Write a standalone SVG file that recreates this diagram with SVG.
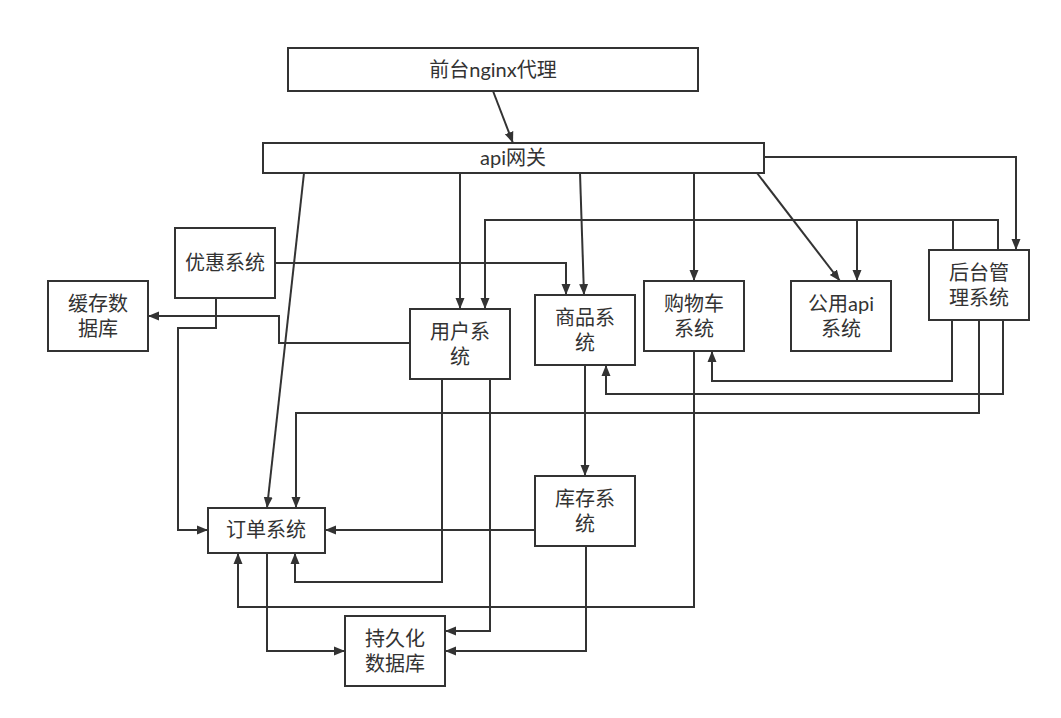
<svg xmlns="http://www.w3.org/2000/svg" width="1061" height="718" viewBox="0 0 1061 718">
<style>
.box{fill:#ffffff;stroke:#333333;stroke-width:2}
.t{font-family:Lato,"Noto Sans CJK SC",sans-serif;font-size:20px;fill:#333333;text-anchor:middle}
.c{fill:none;stroke:#333333;stroke-width:2;marker-end:url(#arr)}
</style>
<defs>
<marker id="arr" markerUnits="userSpaceOnUse" markerWidth="12" markerHeight="10" refX="11" refY="5" orient="auto">
<path d="M0,0.5 L11,5 L0,9.5 Z" fill="#333333"/>
</marker>
</defs>
<rect width="1061" height="718" fill="#ffffff"/>
<g id="connectors">
<path class="c" d="M493,91 L513,143"/>
<path class="c" d="M304,173 L267,508"/>
<path class="c" d="M460,173 L460,309"/>
<path class="c" d="M580,173 L584,295"/>
<path class="c" d="M694,173 L694,281"/>
<path class="c" d="M757,173 L840,281"/>
<path class="c" d="M764,157 L1016,157 L1016,250"/>
<path class="c" d="M953,250 L953,220 L857,220 L857,281"/>
<path class="c" d="M998,250 L998,220 L485,220 L485,309"/>
<path class="c" d="M275,263 L566,263 L566,295"/>
<path class="c" d="M410,343 L279,343 L279,316 L148,316"/>
<path class="c" d="M216,298 L216,328 L178,328 L178,530 L208,530"/>
<path class="c" d="M952,320 L952,381 L712,381 L712,351"/>
<path class="c" d="M1003,320 L1003,394 L606,394 L606,365"/>
<path class="c" d="M979,320 L979,413 L296,413 L296,508"/>
<path class="c" d="M585,365 L585,476"/>
<path class="c" d="M535,530 L325,530"/>
<path class="c" d="M442,379 L442,582 L295,582 L295,553"/>
<path class="c" d="M490,379 L490,631 L445,631"/>
<path class="c" d="M694,351 L694,607 L238,607 L238,553"/>
<path class="c" d="M267,553 L267,651 L345,651"/>
<path class="c" d="M586,546 L586,651 L445,651"/>
</g>
<g id="nginx"><rect class="box" x="288" y="48" width="410" height="43"/><text class="t" x="493" y="77">前台nginx代理</text></g>
<g id="gateway"><rect class="box" x="263" y="143" width="501" height="30"/><text class="t" x="513" y="165">api网关</text></g>
<g id="coupon"><rect class="box" x="175" y="228" width="100" height="70"/><text class="t" x="225" y="270">优惠系统</text></g>
<g id="cache"><rect class="box" x="48" y="281" width="100" height="70"/><text class="t" x="98" y="311">缓存数</text><text class="t" x="98" y="336">据库</text></g>
<g id="user"><rect class="box" x="410" y="309" width="100" height="70"/><text class="t" x="460" y="339">用户系</text><text class="t" x="460" y="364">统</text></g>
<g id="product"><rect class="box" x="535" y="295" width="100" height="70"/><text class="t" x="585" y="325">商品系</text><text class="t" x="585" y="350">统</text></g>
<g id="cart"><rect class="box" x="644" y="281" width="100" height="70"/><text class="t" x="694" y="311">购物车</text><text class="t" x="694" y="336">系统</text></g>
<g id="common"><rect class="box" x="791" y="281" width="100" height="70"/><text class="t" x="841" y="311">公用api</text><text class="t" x="841" y="336">系统</text></g>
<g id="admin"><rect class="box" x="929" y="250" width="100" height="70"/><text class="t" x="979" y="280">后台管</text><text class="t" x="979" y="305">理系统</text></g>
<g id="order"><rect class="box" x="208" y="508" width="117" height="45"/><text class="t" x="266" y="537">订单系统</text></g>
<g id="stock"><rect class="box" x="535" y="476" width="100" height="70"/><text class="t" x="585" y="506">库存系</text><text class="t" x="585" y="531">统</text></g>
<g id="db"><rect class="box" x="345" y="616" width="100" height="70"/><text class="t" x="395" y="646">持久化</text><text class="t" x="395" y="671">数据库</text></g>
</svg>
